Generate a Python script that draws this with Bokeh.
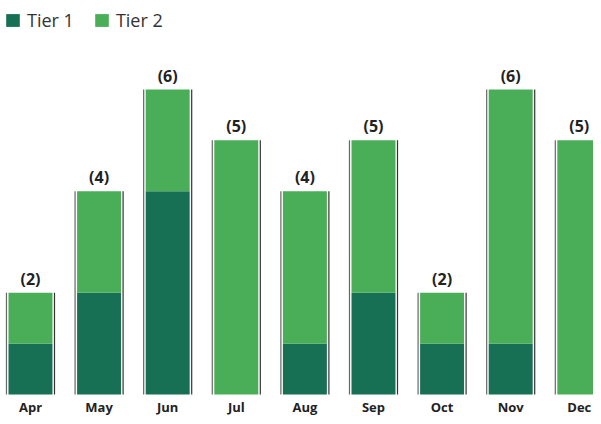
from bokeh.plotting import figure
from bokeh.models import ColumnDataSource, Range1d
from bokeh.transform import dodge
from bokeh.core.properties import value
from bokeh.embed import file_html
from bokeh.resources import INLINE

months = ["Apr", "May", "Jun", "Jul", "Aug", "Sep", "Oct", "Nov", "Dec"]
tier1 = [1, 2, 4, 0, 1, 2, 1, 1, 0]
tier2 = [1, 2, 2, 5, 3, 3, 1, 5, 5]

DARK = "#176f54"
LIGHT = "#4aae58"
FONT = "Open Sans"

pos = list(range(len(months)))
total = [a + b for a, b in zip(tier1, tier2)]
labels = ["(%d)" % t for t in total]

src = ColumnDataSource(dict(x=pos, month=months, tier1=tier1, tier2=tier2,
                            total=total, label=labels))

p = figure(width=593, height=416, output_backend="svg", toolbar_location=None,
           x_range=Range1d(-0.437, 8.207), y_range=Range1d(-0.4328, 7.751),
           min_border_left=0, min_border_right=0, min_border_top=0, min_border_bottom=0)
p.outline_line_color = None
p.xgrid.visible = False
p.ygrid.visible = False
p.xaxis.visible = False
p.yaxis.visible = False

p.vbar_stack(["tier1", "tier2"], x="x", width=0.641, color=[DARK, LIGHT], line_color=None,
             source=src, legend_label=["Tier 1", "Tier 2"])

p.segment(x0=dodge("x", -0.35), x1=dodge("x", -0.35), y0=0, y1="total", source=src,
          line_color="#666666", line_width=1.2)
p.segment(x0=dodge("x", 0.35), x1=dodge("x", 0.35), y0=0, y1="total", source=src,
          line_color="#333333", line_width=1.2)

p.text(x="x", y="total", text="label", source=src, text_align="center", text_baseline="bottom",
       y_offset=-3, text_font=value(FONT), text_font_style="bold", text_font_size="16px",
       text_color="#222222")

p.text(x="x", y=0, text="month", source=src, text_align="center", text_baseline="alphabetic",
       y_offset=13, text_font=value(FONT), text_font_style="bold", text_font_size="13px",
       text_color="#222222")

lg = p.legend[0]
lg.location = (4, 384)
lg.orientation = "horizontal"
lg.padding = 0
lg.margin = 0
lg.spacing = 19
lg.glyph_width = 17
lg.glyph_height = 16
lg.label_standoff = 6
lg.label_text_font = FONT
lg.label_text_font_size = "18px"
lg.label_text_color = "#333333"
lg.border_line_color = None
lg.background_fill_alpha = 0

open("out.html", "w").write(file_html(p, INLINE))
